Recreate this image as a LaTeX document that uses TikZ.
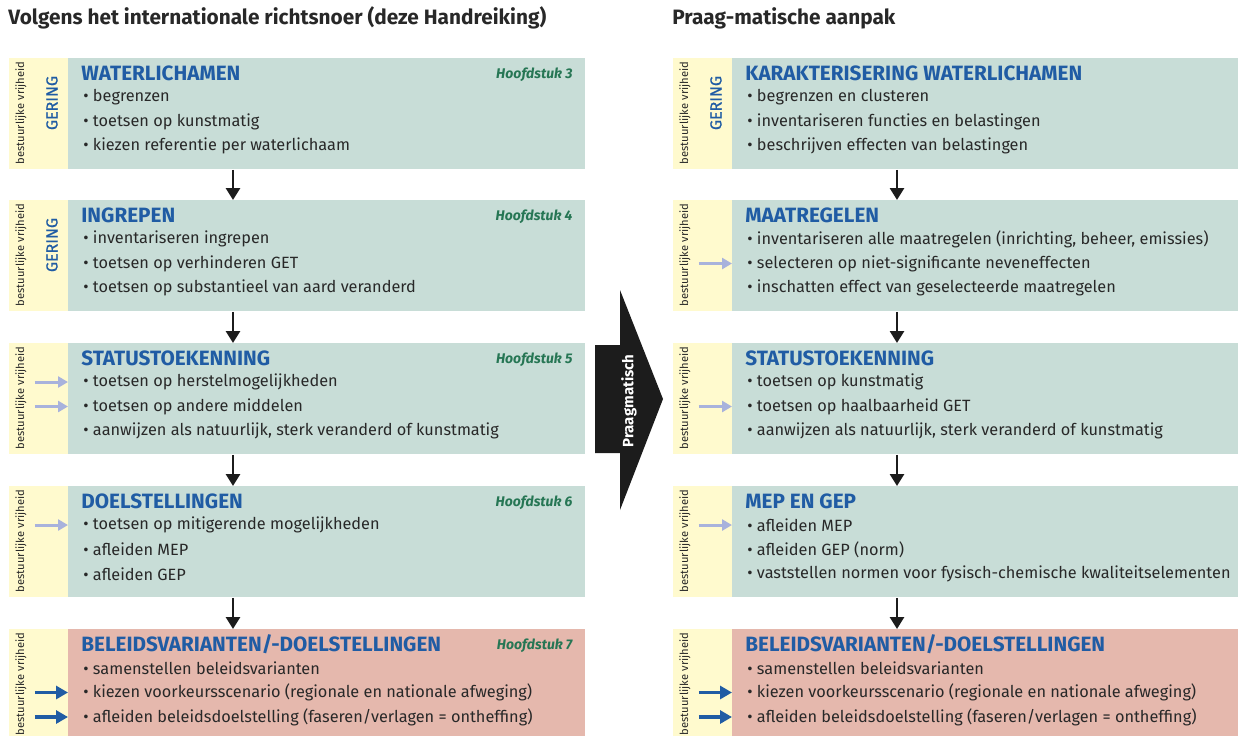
\documentclass[tikz,border=0pt]{standalone}
\usepackage{fontspec}
\setmainfont{Fira Sans}
\usetikzlibrary{arrows.meta, positioning, calc}
\definecolor{stripyellow}{RGB}{255,250,206}
\definecolor{panelgreen}{RGB}{200,221,215}
\definecolor{panelred}{RGB}{229,184,173}
\definecolor{headblue}{RGB}{32,92,164}
\definecolor{chapgreen}{RGB}{38,118,84}
\definecolor{hintblue}{RGB}{168,178,220}
\definecolor{inkgray}{RGB}{40,40,40}
\definecolor{arrowblack}{RGB}{28,28,28}

% one stage: strip + panel + heading
\newcommand{\stage}[6][panelgreen]{%
  \node[strip] (#2s) at (#3-59,#4) {};
  \node[panel, fill=#1, minimum width=#5] (#2) at (#3,#4) {};
  \node[freedom] at (#3-47,#4+55) {bestuurlijke vrijheid};
  \node[head] (#2h) at (#3+13,#4+15) {#6};
}
% bullets of a stage
\newcommand{\bullets}[4]{%
  \foreach \itm [count=\k] in {#4}
    \node[item] (#1-\k) at (#2+15,{#3+14.5+24.5*\k}) {\textbullet\ \itm};
}

\begin{document}
\begin{tikzpicture}[x=0.5pt, y=-0.5pt,
  strip/.style={fill=stripyellow, anchor=north west, minimum width=29.5pt,
                minimum height=55.5pt, inner sep=0pt},
  panel/.style={anchor=north west, minimum height=55.5pt, inner sep=0pt},
  head/.style={anchor=west, inner sep=0pt, text=headblue,
               font=\fontsize{10.35}{12}\selectfont\bfseries},
  item/.style={anchor=west, inner sep=0pt, text=inkgray,
               font=\fontsize{8.15}{10}\selectfont},
  chap/.style={anchor=east, inner sep=0pt, text=chapgreen,
               font=\fontsize{7}{8}\selectfont\bfseries\itshape},
  freedom/.style={rotate=90, inner sep=0pt, text=inkgray,
                  font=\fontsize{5.6}{6}\selectfont},
  gering/.style={rotate=90, inner sep=0pt, text=headblue,
                 font=\fontsize{8}{9}\selectfont\addfontfeature{FakeBold=0.8}},
  title/.style={anchor=west, inner sep=0pt, text=inkgray,
                font=\fontsize{10.4}{12}\selectfont\bfseries},
  flow/.style={-{Triangle[length=6pt,width=7pt]}, line width=1.4pt, arrowblack},
  hint/.style={-{Triangle[length=5pt,width=5.5pt]}, line width=1.5pt, hintblue},
  push/.style={-{Triangle[length=6pt,width=6.5pt]}, line width=1.8pt, headblue}
]
  \useasboundingbox (0,0) rectangle (1241,735);

  \node[title] (lefttitle)  at (8,18)   {Volgens het internationale richtsnoer (deze Handreiking)};
  \node[title] (righttitle) at (672,18) {Praag-matische aanpak};

  % left column
  \stage{l1}{68}{58}{258.5pt}{WATERLICHAMEN}
  \bullets{l1}{68}{58}{begrenzen, toetsen op kunstmatig, kiezen referentie per waterlichaam}
  \stage{l2}{68}{200}{258.5pt}{INGREPEN}
  \bullets{l2}{68}{200}{inventariseren ingrepen, toetsen op verhinderen GET,
    toetsen op substantieel van aard veranderd}
  \stage{l3}{68}{343}{258.5pt}{STATUSTOEKENNING}
  \bullets{l3}{68}{343}{toetsen op herstelmogelijkheden, toetsen op andere middelen,
    {aanwijzen als natuurlijk, sterk veranderd of kunstmatig}}
  \stage{l4}{68}{486}{258.5pt}{DOELSTELLINGEN}
  \bullets{l4}{68}{486}{toetsen op mitigerende mogelijkheden, afleiden MEP, afleiden GEP}
  \stage[panelred]{l5}{68}{629}{258.5pt}{BELEIDSVARIANTEN/-DOELSTELLINGEN}
  \bullets{l5}{68}{629}{samenstellen beleidsvarianten,
    kiezen voorkeursscenario (regionale en nationale afweging),
    afleiden beleidsdoelstelling (faseren/verlagen = ontheffing)}

  % right column
  \stage{r1}{732}{58}{253pt}{KARAKTERISERING WATERLICHAMEN}
  \bullets{r1}{732}{58}{begrenzen en clusteren, inventariseren functies en belastingen,
    beschrijven effecten van belastingen}
  \stage{r2}{732}{200}{253pt}{MAATREGELEN}
  \bullets{r2}{732}{200}{{inventariseren alle maatregelen (inrichting, beheer, emissies)},
    selecteren op niet-significante neveneffecten,
    inschatten effect van geselecteerde maatregelen}
  \stage{r3}{732}{343}{253pt}{STATUSTOEKENNING}
  \bullets{r3}{732}{343}{toetsen op kunstmatig, toetsen op haalbaarheid GET,
    {aanwijzen als natuurlijk, sterk veranderd of kunstmatig}}
  \stage{r4}{732}{486}{253pt}{MEP EN GEP}
  \bullets{r4}{732}{486}{afleiden MEP, afleiden GEP (norm),
    vaststellen normen voor fysisch-chemische kwaliteitselementen}
  \stage[panelred]{r5}{732}{629}{253pt}{BELEIDSVARIANTEN/-DOELSTELLINGEN}
  \bullets{r5}{732}{629}{samenstellen beleidsvarianten,
    kiezen voorkeursscenario (regionale en nationale afweging),
    afleiden beleidsdoelstelling (faseren/verlagen = ontheffing)}

  % chapter tags
  \foreach \k/\n in {1/3, 2/4, 3/5, 4/6, 5/7}
    \node[chap] (l\k c) at ($(l\k.north east)+(-13,17)$) {Hoofdstuk \n};

  % GERING
  \foreach \s in {l1s, l2s, r1s}
    \node[gering] at ($(\s.north west)+(43,45)$) {GERING};

  % flow between stages
  \coordinate (lx) at (233,0);
  \coordinate (rx) at (897,0);
  \foreach \a/\b/\c in {l1/l2/lx, l2/l3/lx, l3/l4/lx, l4/l5/lx,
                        r1/r2/rx, r2/r3/rx, r3/r4/rx, r4/r5/rx}
    \draw[flow] (\a.south -| \c) -- (\b.north -| \c);

  % policy freedom arrows
  \foreach \p/\i in {l3/1, l3/2, l4/1, r2/2, r3/2, r4/1}
    \draw[hint] ($(\p s.center |- \p-\i)+(-4,0)$) -- (\p.west |- \p-\i);
  \foreach \p/\i in {l5/2, l5/3, r5/2, r5/3}
    \draw[push] ($(\p s.center |- \p-\i)+(-4,0)$) -- (\p.west |- \p-\i);

  % pragmatic shift
  \fill[arrowblack] (595,345) -- (620,345) -- (620,290) -- (663,399)
    -- (620,510) -- (620,453) -- (595,453) -- cycle;
  \node[rotate=90, inner sep=0pt, text=white,
        font=\fontsize{7.5}{8}\selectfont\bfseries] (prag) at (629,401) {Praagmatisch};
\end{tikzpicture}
\end{document}
